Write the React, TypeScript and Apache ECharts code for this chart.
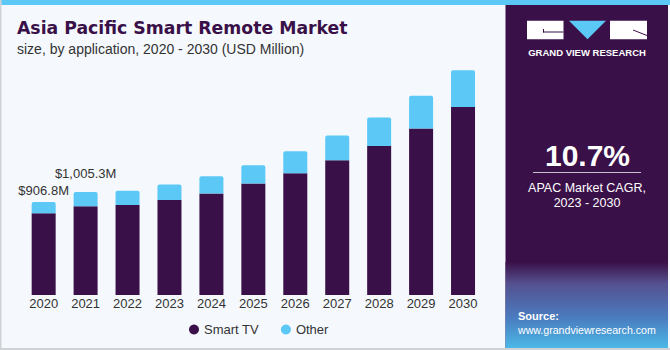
import React, { useEffect, useRef } from "react";
import * as echarts from "echarts";

const years = ["2020", "2021", "2022", "2023", "2024", "2025", "2026", "2027", "2028", "2029", "2030"];
const smartTV = [798, 867, 877, 928, 990, 1088, 1188, 1315, 1454, 1624, 1834];
const other = [108.8, 138.3, 139, 150, 169, 178, 215, 240, 277, 321, 358];
const totalLabels = ["$906.8M", "$1,005.3M"];
const labelDistances = [5, 12];

const FONT = "'Liberation Sans', Arial, sans-serif";
const PURPLE = "#3a1048";
const BLUE = "#5bc8f5";

export default function App() {
  const ref = useRef<HTMLDivElement>(null);
  useEffect(() => {
    if (!ref.current) return;
    const chart = echarts.init(ref.current, undefined, { renderer: "svg" });
    const otherData = other.map((v, i) =>
      i < totalLabels.length
        ? {
            value: v,
            label: {
              show: true,
              position: "top",
              distance: labelDistances[i],
              formatter: totalLabels[i],
              color: "#333",
              fontSize: 13,
              fontFamily: FONT,
            },
          }
        : v
    );
    chart.setOption({
      animation: false,
      backgroundColor: "#f5f9fd",
      textStyle: { fontFamily: FONT },
      grid: { left: 22.7, right: 186, top: 49, bottom: 55 },
      xAxis: {
        type: "category",
        data: years,
        axisLine: { show: false },
        axisTick: { show: false },
        axisLabel: { color: "#333", fontSize: 13, margin: 2, fontFamily: FONT },
      },
      yAxis: {
        type: "value",
        min: 0,
        max: 2400,
        show: false,
        splitLine: { show: false },
      },
      legend: {
        left: 184,
        top: 318,
        itemGap: 22,
        itemWidth: 10,
        itemHeight: 10,
        icon: "circle",
        textStyle: { color: "#333", fontSize: 13, fontFamily: FONT },
        data: ["Smart TV", "Other"],
      },
      series: [
        {
          name: "Smart TV",
          type: "bar",
          stack: "total",
          barWidth: 24,
          data: smartTV,
          itemStyle: { color: PURPLE },
        },
        {
          name: "Other",
          type: "bar",
          stack: "total",
          barWidth: 24,
          data: otherData,
          itemStyle: { color: BLUE, borderRadius: [2, 2, 0, 0] },
        },
      ],
      graphic: [
        { type: "rect", shape: { x: 0, y: 0, width: 670, height: 5 }, style: { fill: BLUE }, z: 10 },
        { type: "rect", shape: { x: 0, y: 0, width: 1.5, height: 350 }, style: { fill: "#d0d3d6" }, z: 10 },
        { type: "rect", shape: { x: 0, y: 348, width: 670, height: 2 }, style: { fill: "#d0d3d6" }, z: 10 },
        {
          type: "text",
          left: 17,
          top: 19,
          style: { text: "Asia Pacific Smart Remote Market", fill: PURPLE, font: `bold 17.3px 'DejaVu Sans', sans-serif` },
        },
        {
          type: "text",
          left: 17,
          top: 42,
          style: { text: "size, by application, 2020 - 2030 (USD Million)", fill: "#333", font: `14px ${FONT}` },
        },
        // right panel
        { type: "rect", shape: { x: 505.5, y: 5, width: 162.5, height: 343 }, style: { fill: PURPLE }, z: 1 },
        {
          type: "rect",
          shape: { x: 505.5, y: 262, width: 162.5, height: 86 },
          style: {
            fill: new echarts.graphic.LinearGradient(0, 0, 0, 1, [
              { offset: 0, color: "rgba(58,16,72,1)" },
              { offset: 0.25, color: "#55508f" },
              { offset: 0.65, color: "#4a7cbf" },
              { offset: 1, color: "#4cb8e8" },
            ]),
          },
          z: 2,
        },
        // logo
        { type: "rect", shape: { x: 527, y: 20.7, width: 36.5, height: 18.6 }, style: { fill: "#fff" }, z: 3 },
        { type: "line", shape: { x1: 543, y1: 32, x2: 563.5, y2: 32 }, style: { stroke: PURPLE, lineWidth: 1 }, z: 4 },
        { type: "line", shape: { x1: 543.5, y1: 29, x2: 543.5, y2: 32.5 }, style: { stroke: PURPLE, lineWidth: 1 }, z: 4 },
        {
          type: "polygon",
          shape: { points: [[569, 20.7], [606, 20.7], [587.5, 39.3]] },
          style: { fill: BLUE },
          z: 3,
        },
        { type: "rect", shape: { x: 610, y: 20.7, width: 37, height: 18.6 }, style: { fill: "#fff" }, z: 3 },
        { type: "line", shape: { x1: 633, y1: 30, x2: 647, y2: 35.5 }, style: { stroke: PURPLE, lineWidth: 1 }, z: 4 },
        {
          type: "text",
          x: 587,
          y: 47,
          style: { text: "GRAND VIEW RESEARCH", fill: "#fff", font: `bold 9.5px ${FONT}`, textAlign: "center" },
          z: 4,
        },
        {
          type: "text",
          x: 587.5,
          y: 140,
          style: { text: "10.7%", fill: "#fff", font: `bold 30px ${FONT}`, textAlign: "center" },
          z: 4,
        },
        { type: "line", shape: { x1: 533, y1: 172.5, x2: 641, y2: 172.5 }, style: { stroke: "#c8bfd0", lineWidth: 1 }, z: 4 },
        {
          type: "text",
          x: 587,
          y: 180,
          style: {
            text: "APAC Market CAGR,\n2023 - 2030",
            fill: "#fff",
            font: `12.5px ${FONT}`,
            textAlign: "center",
            lineHeight: 15,
          },
          z: 4,
        },
        {
          type: "text",
          x: 518,
          y: 310,
          style: { text: "Source:", fill: "#fff", font: `bold 11px ${FONT}` },
          z: 4,
        },
        {
          type: "text",
          x: 518,
          y: 324,
          style: { text: "www.grandviewresearch.com", fill: "#fff", font: `10.6px ${FONT}` },
          z: 4,
        },
      ],
    });
    return () => chart.dispose();
  }, []);
  return (
    <div
      ref={ref}
      style={{ position: "fixed", left: 0, top: 0, width: 670, height: 350 }}
    />
  );
}
